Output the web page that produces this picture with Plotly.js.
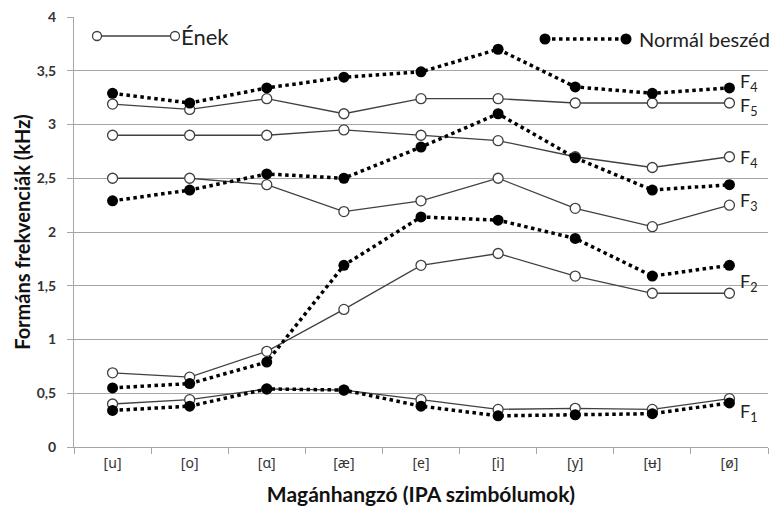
<!DOCTYPE html>
<html>
<head>
<meta charset="utf-8">
<script src="https://cdn.plot.ly/plotly-3.0.1.min.js"></script>
<style>
  html, body { margin: 0; padding: 0; background: #fff; }
  #chart { width: 781px; height: 509px; }
</style>
</head>
<body>
<div id="chart"></div>
<script>
// Magánhangzók (IPA)
const vowels = ['[u]', '[o]', '[ɑ]', '[æ]', '[e]', '[i]', '[y]', '[ʉ]', '[ø]'];

// Formánsok éneklésnél (kHz)
const enekF1 = [0.40, 0.44, 0.54, 0.53, 0.44, 0.35, 0.36, 0.35, 0.45];
const enekF2 = [0.69, 0.65, 0.89, 1.28, 1.69, 1.80, 1.59, 1.43, 1.43];
const enekF3 = [2.50, 2.50, 2.44, 2.19, 2.29, 2.50, 2.22, 2.05, 2.25];
const enekF4 = [2.90, 2.90, 2.90, 2.95, 2.90, 2.85, 2.70, 2.60, 2.70];
const enekF5 = [3.19, 3.14, 3.24, 3.10, 3.24, 3.24, 3.20, 3.20, 3.20];

// Formánsok normál beszédnél (kHz)
const beszedF1 = [0.34, 0.38, 0.54, 0.53, 0.38, 0.29, 0.30, 0.31, 0.41];
const beszedF2 = [0.55, 0.59, 0.79, 1.69, 2.14, 2.11, 1.94, 1.59, 1.69];
const beszedF3 = [2.29, 2.39, 2.54, 2.50, 2.79, 3.10, 2.69, 2.39, 2.44];
const beszedF4 = [3.29, 3.20, 3.34, 3.44, 3.49, 3.70, 3.35, 3.29, 3.34];

const enekSeries = [enekF1, enekF2, enekF3, enekF4, enekF5];
const beszedSeries = [beszedF1, beszedF2, beszedF3, beszedF4];

const SOLID = '#404040';
const FONT = 'Lato, "Noto Sans", sans-serif';

const traces = [];
enekSeries.forEach((ys, i) => {
  traces.push({
    type: 'scatter', mode: 'lines+markers', name: 'Ének F' + (i + 1),
    x: vowels, y: ys,
    line: { color: SOLID, width: 1.3 },
    marker: { symbol: 'circle', size: 10, color: '#ffffff', line: { color: SOLID, width: 1.3 } },
    showlegend: false, hoverinfo: 'y'
  });
});
beszedSeries.forEach((ys, i) => {
  traces.push({
    type: 'scatter', mode: 'lines+markers', name: 'Normál beszéd F' + (i + 1),
    x: vowels, y: ys,
    line: { color: '#000000', width: 3.5, dash: 'dot' },
    marker: { symbol: 'circle', size: 11, color: '#000000' },
    showlegend: false, hoverinfo: 'y'
  });
});

// pixel -> paper helpers for the hand-drawn legend
const L = 74, R = 13, T = 17, B = 62, W = 781, H = 509;
const pw = W - L - R, ph = H - T - B;
const px = v => (v - L) / pw;
const py = v => (H - B - v) / ph;

function dot(xp, yp, filled) {
  return {
    type: 'circle', xref: 'paper', yref: 'paper', xsizemode: 'pixel', ysizemode: 'pixel',
    xanchor: px(xp), yanchor: py(yp),
    x0: filled ? -5.5 : -4.5, x1: filled ? 5.5 : 4.5,
    y0: filled ? -5.5 : -4.5, y1: filled ? 5.5 : 4.5,
    fillcolor: filled ? '#000000' : '#ffffff',
    line: { color: filled ? '#000000' : SOLID, width: filled ? 0 : 1.3 },
    layer: 'above'
  };
}

const shapes = [
  // blank strip behind the formant labels
  { type: 'rect', xref: 'paper', yref: 'y', x0: px(739), x1: 1.002, y0: 0.03, y1: 3.97,
    fillcolor: '#ffffff', line: { width: 0 }, layer: 'between' },
  // legend: Ének
  { type: 'line', xref: 'paper', yref: 'paper', x0: px(97), x1: px(175), y0: py(36), y1: py(36),
    line: { color: SOLID, width: 1.3 }, layer: 'above' },
  dot(97, 36, false), dot(175, 36, false),
  // legend: Normál beszéd
  { type: 'line', xref: 'paper', yref: 'paper', x0: px(545), x1: px(626), y0: py(39), y1: py(39),
    line: { color: '#000000', width: 3.5, dash: 'dot' }, layer: 'above' },
  dot(545, 39, true), dot(626, 39, true)
];

const labelFont = { family: FONT, size: 18, color: '#222222' };
function flabel(n, yv) {
  return {
    xref: 'paper', yref: 'y', x: px(739), y: yv, xanchor: 'left', yanchor: 'middle',
    text: 'F<sub>' + n + '</sub>', showarrow: false,
    font: labelFont, borderpad: 0
  };
}

const annotations = [
  { xref: 'paper', yref: 'paper', x: px(179), y: py(36), xanchor: 'left', yanchor: 'middle',
    text: 'Ének', showarrow: false, font: { family: FONT, size: 22, color: '#222222' } },
  { xref: 'paper', yref: 'paper', x: px(637), y: py(39), xanchor: 'left', yanchor: 'middle',
    text: 'Normál beszéd', showarrow: false, font: { family: FONT, size: 20, color: '#222222' } },
  flabel(4, 3.39),
  flabel(5, 3.17),
  flabel(4, 2.68),
  flabel(3, 2.28),
  flabel(2, 1.53),
  flabel(1, 0.32)
];

const layout = {
  width: W, height: H,
  margin: { l: L, r: R, t: T, b: B, pad: 0 },
  paper_bgcolor: '#ffffff', plot_bgcolor: '#ffffff',
  separators: ', ',
  showlegend: false,
  font: { family: FONT, color: '#222222' },
  xaxis: {
    type: 'category', categoryorder: 'array', categoryarray: vowels,
    range: [-0.5, 8.5], fixedrange: true,
    showgrid: false, zeroline: false,
    showline: true, linecolor: '#a6a6a6', linewidth: 1,
    ticks: 'outside', tickson: 'boundaries', ticklen: 6, tickcolor: '#a6a6a6', tickwidth: 1,
    ticklabelstandoff: 3,
    tickfont: { family: '"Noto Sans", sans-serif', size: 14, color: '#333333' },
    title: { text: 'Magánhangzó (IPA szimbólumok)', standoff: 16,
             font: { family: FONT, size: 21, color: '#111111', weight: 'bold' } },
    automargin: false
  },
  yaxis: {
    range: [0, 4], dtick: 0.5, tick0: 0, fixedrange: true,
    showgrid: true, gridcolor: '#a6a6a6', gridwidth: 1,
    zeroline: false,
    showline: true, linecolor: '#a6a6a6', linewidth: 1,
    ticks: 'outside', ticklen: 6, tickcolor: '#a6a6a6', tickwidth: 1,
    ticklabelstandoff: 8,
    tickfont: { family: FONT, size: 14, color: '#333333', weight: 'bold' },
    title: { text: 'Formáns frekvenciák (kHz)', standoff: 0,
             font: { family: FONT, size: 20, color: '#111111', weight: 'bold' } },
    automargin: false
  },
  shapes: shapes,
  annotations: annotations
};

Plotly.newPlot('chart', traces, layout, { displayModeBar: false, staticPlot: true });
</script>
</body>
</html>
